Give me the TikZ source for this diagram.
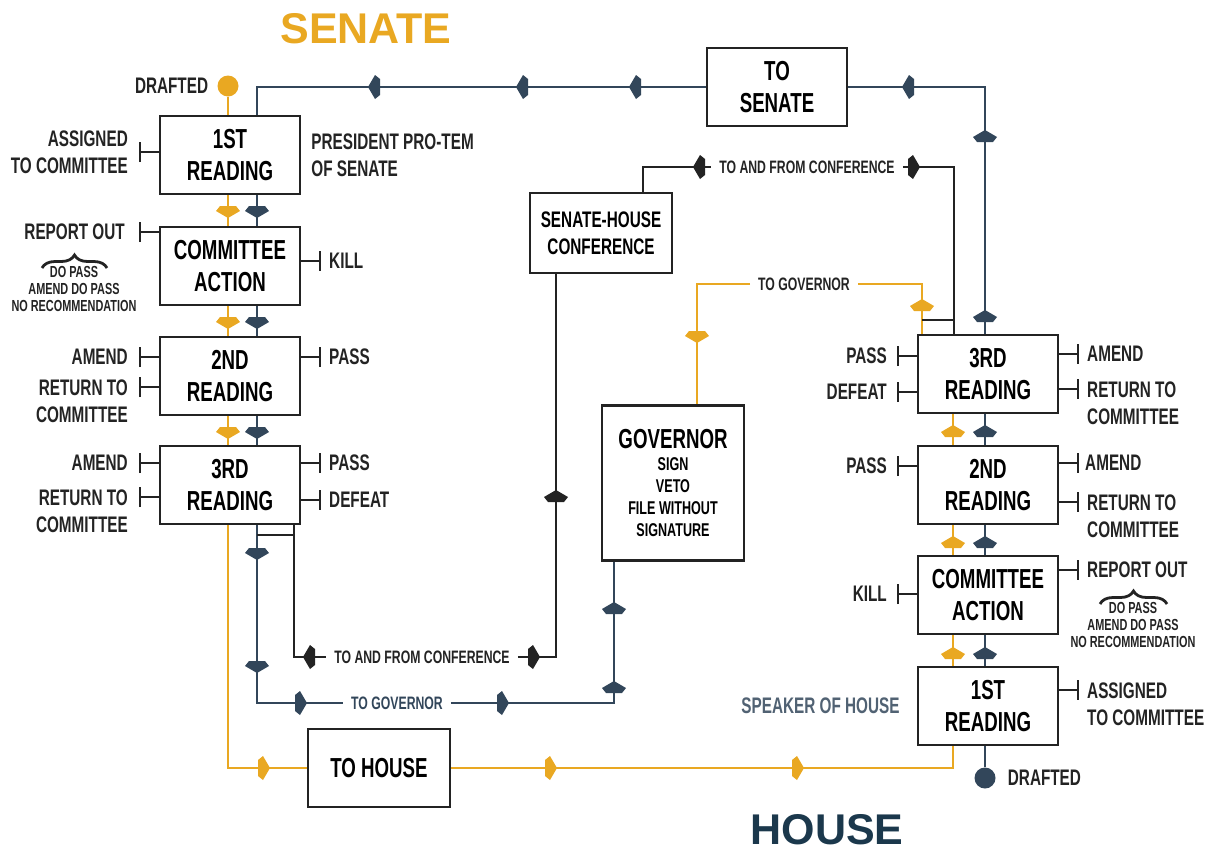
\documentclass[tikz,border=0pt]{standalone}
\usepackage{fontspec}
\setmainfont{Liberation Sans}[FakeStretch=0.68]
\newfontfamily\titlefont{Liberation Sans}
\usetikzlibrary{positioning}
\usetikzlibrary{arrows.meta}
\usetikzlibrary{decorations.pathreplacing}

\definecolor{gold}{RGB}{233,168,34}
\definecolor{slate}{RGB}{50,70,90}
\definecolor{navy}{RGB}{27,56,76}
\definecolor{ink}{RGB}{35,35,35}

\newcommand{\stagefont}{\fontsize{27.5}{32}\selectfont\bfseries}
\newcommand{\labelfont}{\fontsize{22.5}{27}\selectfont\bfseries}
\newcommand{\notefont}{\fontsize{18}{21.5}\selectfont\bfseries}
\newcommand{\optfont}{\fontsize{16}{17}\selectfont\bfseries}
\newcommand{\govfont}{\fontsize{18.5}{22}\selectfont\bfseries}

\tikzset{flowtip/.pic={\fill (7,0) -- (0,12) -- (-5,8) -- (-5,-8) -- (0,-12) -- cycle;}}

\begin{document}
\begin{tikzpicture}[x=1pt, y=-1pt]
  \tikzstyle{stage}=[rectangle, draw=ink, line width=2.4pt, minimum width=140pt, minimum height=78pt, inner sep=0pt, align=center, font=\stagefont]
  \tikzstyle{lbl}=[inner sep=0pt, font=\labelfont, text=ink]
  \tikzstyle{note}=[inner xsep=8pt, inner ysep=0pt, font=\notefont, text=ink]
  \tikzstyle{opts}=[inner sep=0pt, align=center, font=\optfont, text=ink]
  \tikzstyle{dot}=[circle, minimum size=21pt, inner sep=0pt]
  \tikzstyle{yline}=[draw=gold, line width=2.6pt]
  \tikzstyle{kline}=[draw=slate, line width=2.6pt]
  \tikzstyle{bline}=[draw=ink, line width=2.6pt]
  \tikzstyle{tick}=[draw=ink, line width=2pt, -{Bar[width=20pt]}]
  \tikzstyle{brace}=[draw=ink, line width=2.8pt, decorate, decoration={brace, amplitude=13pt}]
  \tikzstyle{chamber}=[inner sep=0pt, font=\titlefont\fontsize{43}{43}\selectfont\bfseries]
  \useasboundingbox (0,0) rectangle (1212,852);

  % line columns
  \coordinate (sy) at (228,0);
  \coordinate (sk) at (257,0);
  \coordinate (sb) at (294,0);
  \coordinate (hy) at (953,0);
  \coordinate (hk) at (985,0);
  \coordinate (hy3) at (922,0);
  \coordinate (hb) at (954,0);
  \coordinate (gk) at (614,0);
  \coordinate (gy) at (697,0);
  \coordinate (cb) at (556,0);
  \coordinate (ct) at (643,0);

  \node [chamber, text=gold] (stitle) at (366,29) {SENATE};
  \node [chamber, text=navy] (htitle) at (827,830) {HOUSE};

  % senate
  \node [stage] (s1) at (230,155) {1ST\\READING};
  \node [stage] (sc) at (230,266) {COMMITTEE\\ACTION};
  \node [stage] (s2) at (230,376) {2ND\\READING};
  \node [stage] (s3) at (230,485) {3RD\\READING};
  \node [dot, fill=gold] (sd) at (228,86) {};
  \node [lbl, left=9pt of sd] (sdl) {DRAFTED};
  \node [lbl, align=left, right=10pt of s1] (spt) {PRESIDENT PRO-TEM\\OF SENATE};

  % house
  \node [stage] (h3) at (988,374) {3RD\\READING};
  \node [stage] (h2) at (988,485) {2ND\\READING};
  \node [stage] (hc) at (988,595) {COMMITTEE\\ACTION};
  \node [stage] (h1) at (988,706) {1ST\\READING};
  \node [dot, fill=slate] (hd) at (985,778) {};
  \node [lbl, right=12pt of hd] (hdl) {DRAFTED};
  \node [lbl, text=slate!85, left=17pt of h1] (hsp) {SPEAKER OF HOUSE};

  % between chambers
  \node [stage] (toS) at (777,87) {TO\\SENATE};
  \node [stage, minimum width=142pt] (toH) at (379,768) {TO HOUSE};
  \node [stage, font=\labelfont, minimum width=142pt, minimum height=80pt] (conf) at (601,233) {SENATE-HOUSE\\CONFERENCE};
  \node [stage, font=\govfont, minimum width=142pt, minimum height=155pt] (gov) at (673,483)
    {\fontsize{27.5}{22}\selectfont GOVERNOR\\SIGN\\VETO\\FILE WITHOUT\\SIGNATURE};
  \node [note, text=slate] (tgk) at (397,703) {TO GOVERNOR};
  \node [note] (tgy) at (804,284) {TO GOVERNOR};
  \node [note] (tcb) at (422,657) {TO AND FROM CONFERENCE};
  \node [note] (tct) at (807,167) {TO AND FROM CONFERENCE};

  % senate bill
  \draw[yline] (sd) -- (s1.north -| sy);
  \draw[yline] (s1.south -| sy) -- (sc.north -| sy);
  \draw[yline] (sc.south -| sy) -- (s2.north -| sy);
  \draw[yline] (s2.south -| sy) -- (s3.north -| sy);
  \draw[yline] (s3.south -| sy) |- (toH.west);
  \draw[yline] (toH.east) -| (h1.south -| hy);
  \draw[yline] (h1.north -| hy) -- (hc.south -| hy);
  \draw[yline] (hc.north -| hy) -- (h2.south -| hy);
  \draw[yline] (h2.north -| hy) -- (h3.south -| hy);
  \draw[yline] (h3.north -| hy3) |- (tgy.east);
  \draw[yline] (tgy.west) -| (gov.north -| gy);

  % house bill
  \draw[kline] (hd) -- (h1.south -| hk);
  \draw[kline] (h1.north -| hk) -- (hc.south -| hk);
  \draw[kline] (hc.north -| hk) -- (h2.south -| hk);
  \draw[kline] (h2.north -| hk) -- (h3.south -| hk);
  \draw[kline] (h3.north -| hk) |- (toS.east);
  \draw[kline] (toS.west) -| (s1.north -| sk);
  \draw[kline] (s1.south -| sk) -- (sc.north -| sk);
  \draw[kline] (sc.south -| sk) -- (s2.north -| sk);
  \draw[kline] (s2.south -| sk) -- (s3.north -| sk);
  \draw[kline] (s3.south -| sk) |- (tgk.west);
  \draw[kline] (tgk.east) -| (gov.south -| gk);

  % conference
  \draw[bline] (s3.south -| sb) |- (tcb.west);
  \draw[bline] (tcb.east) -| (conf.south -| cb);
  \draw[bline] (conf.north -| ct) |- (tct.west);
  \draw[bline] (tct.east) -| (h3.north -| hb);
  \coordinate (sj) at (257,535);
  \coordinate (hj) at (922,320);
  \draw[bline] (sj) -- (sj -| sb);
  \draw[bline] (hj) -- (hj -| hb);

  % flow tips
  \pic[gold, rotate=-90] at (228,211) {flowtip};
  \pic[gold, rotate=-90] at (228,322) {flowtip};
  \pic[gold, rotate=-90] at (228,432) {flowtip};
  \pic[gold] at (263,768) {flowtip};
  \pic[gold] at (550,768) {flowtip};
  \pic[gold] at (797,768) {flowtip};
  \pic[gold, rotate=90] at (953,654) {flowtip};
  \pic[gold, rotate=90] at (953,543) {flowtip};
  \pic[gold, rotate=90] at (953,432) {flowtip};
  \pic[gold, rotate=90] at (922,306) {flowtip};
  \pic[gold, rotate=-90] at (697,336) {flowtip};
  \pic[slate, rotate=-90] at (257,211) {flowtip};
  \pic[slate, rotate=-90] at (257,322) {flowtip};
  \pic[slate, rotate=-90] at (257,432) {flowtip};
  \pic[slate, rotate=-90] at (257,553) {flowtip};
  \pic[slate, rotate=-90] at (257,666) {flowtip};
  \pic[slate] at (300,703) {flowtip};
  \pic[slate] at (502,703) {flowtip};
  \pic[slate, rotate=90] at (614,688) {flowtip};
  \pic[slate, rotate=90] at (614,609) {flowtip};
  \pic[slate, rotate=90] at (985,654) {flowtip};
  \pic[slate, rotate=90] at (985,543) {flowtip};
  \pic[slate, rotate=90] at (985,432) {flowtip};
  \pic[slate, rotate=90] at (985,317) {flowtip};
  \pic[slate, rotate=90] at (985,137) {flowtip};
  \pic[slate, rotate=180] at (909,87) {flowtip};
  \pic[slate, rotate=180] at (636,87) {flowtip};
  \pic[slate, rotate=180] at (523,87) {flowtip};
  \pic[slate, rotate=180] at (375,87) {flowtip};
  \pic[ink, rotate=180] at (310,657) {flowtip};
  \pic[ink] at (533,657) {flowtip};
  \pic[ink, rotate=90] at (556,497) {flowtip};
  \pic[ink, rotate=180] at (700,167) {flowtip};
  \pic[ink] at (913,167) {flowtip};

  % senate actions
  \draw[tick] (s1.west |- 0,152) -- ++(-20,0) node[lbl, align=right, left=10pt] (s1as) {ASSIGNED\\TO COMMITTEE};
  \draw[tick] (sc.west |- 0,232) -- ++(-20,0) node[lbl, left=13pt] (scro) {REPORT OUT};
  \draw[tick] (sc.east |- 0,261) -- ++(20,0) node[lbl, right=7pt] (sck) {KILL};
  \draw[tick] (s2.west |- 0,357) -- ++(-20,0) node[lbl, left=10pt] (s2am) {AMEND};
  \draw[tick] (s2.west |- 0,387) -- ++(-20,0) node[lbl, align=right, anchor=north east, xshift=-10pt, yshift=8pt] (s2rt) {RETURN TO\\COMMITTEE};
  \draw[tick] (s2.east |- 0,357) -- ++(20,0) node[lbl, right=7pt] (s2p) {PASS};
  \draw[tick] (s3.west |- 0,463) -- ++(-20,0) node[lbl, left=10pt] (s3am) {AMEND};
  \draw[tick] (s3.west |- 0,497) -- ++(-20,0) node[lbl, align=right, anchor=north east, xshift=-10pt, yshift=8pt] (s3rt) {RETURN TO\\COMMITTEE};
  \draw[tick] (s3.east |- 0,463) -- ++(20,0) node[lbl, right=7pt] (s3p) {PASS};
  \draw[tick] (s3.east |- 0,500) -- ++(20,0) node[lbl, right=7pt] (s3d) {DEFEAT};
  \draw[brace] (42,268) -- (107,268);
  \node[opts] (scopt) at (74,289) {DO PASS\\AMEND DO PASS\\NO RECOMMENDATION};

  % house actions
  \draw[tick] (h3.west |- 0,356) -- ++(-20,0) node[lbl, left=9pt] (h3p) {PASS};
  \draw[tick] (h3.west |- 0,392) -- ++(-20,0) node[lbl, left=9pt] (h3d) {DEFEAT};
  \draw[tick] (h3.east |- 0,354) -- ++(20,0) node[lbl, right=7pt] (h3am) {AMEND};
  \draw[tick] (h3.east |- 0,389) -- ++(20,0) node[lbl, align=left, anchor=north west, xshift=7pt, yshift=8pt] (h3rt) {RETURN TO\\COMMITTEE};
  \draw[tick] (h2.west |- 0,466) -- ++(-20,0) node[lbl, left=9pt] (h2p) {PASS};
  \draw[tick] (h2.east |- 0,463) -- ++(20,0) node[lbl, right=5pt] (h2am) {AMEND};
  \draw[tick] (h2.east |- 0,502) -- ++(20,0) node[lbl, align=left, anchor=north west, xshift=7pt, yshift=8pt] (h2rt) {RETURN TO\\COMMITTEE};
  \draw[tick] (hc.west |- 0,594) -- ++(-20,0) node[lbl, left=9pt] (hck) {KILL};
  \draw[tick] (hc.east |- 0,570) -- ++(20,0) node[lbl, right=7pt] (hcro) {REPORT OUT};
  \draw[tick] (h1.east |- 0,690) -- ++(20,0) node[lbl, align=left, anchor=north west, xshift=7pt, yshift=8pt] (h1as) {ASSIGNED\\TO COMMITTEE};
  \draw[brace] (1100,604) -- (1167,604);
  \node[opts] (hcopt) at (1133,625) {DO PASS\\AMEND DO PASS\\NO RECOMMENDATION};
\end{tikzpicture}
\end{document}
